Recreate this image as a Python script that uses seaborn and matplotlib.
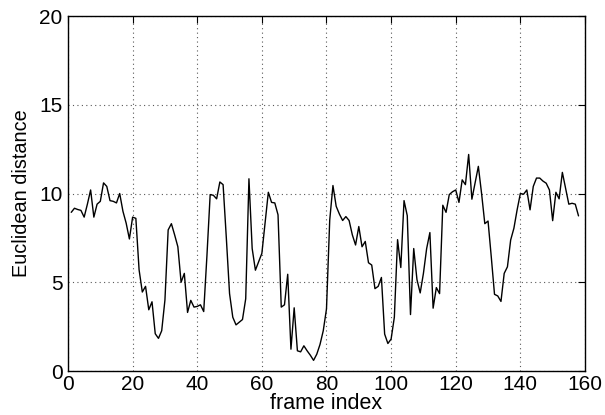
import numpy as np
import pandas as pd
import matplotlib
matplotlib.use("Agg")
import matplotlib.pyplot as plt
import seaborn as sns

sns.set_style("white")
plt.rcParams['font.family'] = ['Liberation Sans', 'DejaVu Sans']
plt.rcParams['text.color'] = 'black'
plt.rcParams['axes.labelcolor'] = 'black'

# Data (frames 1..158)
frame_index = list(range(1, 159))
euclidean_distance = [
    8.94, 9.17, 9.10, 9.05, 8.67, 9.40, 10.20, 8.67, 9.40, 9.56,
    10.60, 10.40, 9.60, 9.56, 9.47, 10.00, 9.00, 8.33, 7.44, 8.67,
    8.60, 5.70, 4.45, 4.77, 3.45, 3.90, 2.10, 1.84, 2.27, 4.00,
    7.95, 8.30, 7.67, 7.00, 5.00, 5.50, 3.30, 3.98, 3.60, 3.64,
    3.73, 3.35, 6.50, 9.94, 9.90, 9.70, 10.65, 10.50, 7.50, 4.36,
    3.03, 2.60, 2.75, 2.90, 4.07, 10.83, 6.90, 5.68, 6.15, 6.63,
    8.33, 10.07, 9.50, 9.47, 8.80, 3.60, 3.73, 5.45, 1.23, 3.56,
    1.14, 1.08, 1.42, 1.14, 0.89, 0.60, 0.95, 1.50, 2.27, 3.50,
    8.50, 10.45, 9.28, 8.84, 8.48, 8.70, 8.48, 7.67, 7.10, 8.14,
    7.00, 7.30, 6.10, 5.97, 4.64, 4.77, 5.27, 2.08, 1.55, 1.80,
    3.03, 7.40, 5.83, 9.60, 8.75, 3.18, 6.90, 5.15, 4.40, 5.50,
    6.90, 7.80, 3.54, 4.70, 4.36, 9.34, 8.94, 9.94, 10.10, 10.20,
    9.50, 10.77, 10.50, 12.20, 9.68, 10.60, 11.53, 10.00, 8.30, 8.45,
    6.43, 4.32, 4.23, 3.92, 5.50, 5.87, 7.38, 8.04, 9.08, 10.00,
    9.96, 10.20, 9.08, 10.40, 10.87, 10.87, 10.70, 10.58, 10.20, 8.47,
    10.07, 9.70, 11.19, 10.30, 9.40, 9.45, 9.40, 8.74,
]

x_ticks = [0, 20, 40, 60, 80, 100, 120, 140, 160]
y_ticks = [0, 5, 10, 15, 20]

df = pd.DataFrame({'frame': frame_index, 'dist': euclidean_distance})

fig = plt.figure(figsize=(6.05, 4.15), dpi=100)
ax = fig.add_axes([0.1124, 0.106, 0.8545, 0.8554])

sns.lineplot(data=df, x='frame', y='dist', ax=ax, color='black', linewidth=1.0)

ax.set_xlim(0, 160)
ax.set_ylim(0, 20)
ax.set_xticks(x_ticks)
ax.set_yticks(y_ticks)
ax.grid(True, linestyle=(0, (1, 3)), color='0.35', linewidth=0.8)

for side in ax.spines.values():
    side.set_color('black')
    side.set_linewidth(1.0)

ax.tick_params(direction='in', length=5, width=0.8, top=True, right=True,
               labelsize=15, colors='black')
ax.tick_params(axis='x', pad=3)
ax.tick_params(axis='y', pad=4)

ax.set_xlabel('frame index', fontsize=15.5, labelpad=-1)
ax.set_ylabel('Euclidean distance', fontsize=14.3, labelpad=6)

fig.savefig('out.png', dpi=100)
